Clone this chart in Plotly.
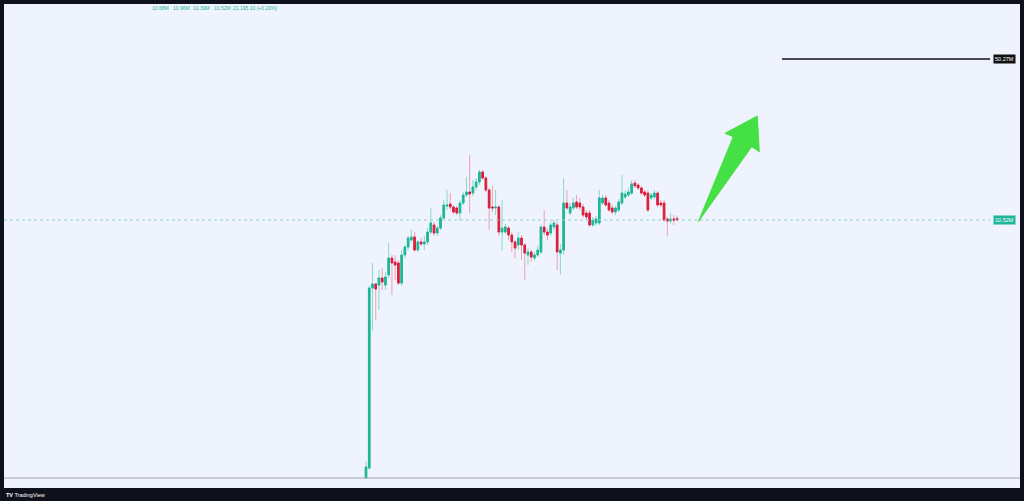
import math
import plotly.graph_objects as go

# ---- data (market cap, millions) ----
opens = [0.858, 0.946, 5.43, 5.65, 5.59, 5.99, 5.59, 6.17, 7.27, 7.00,
         6.93, 5.70, 7.49, 8.09, 8.66, 8.92, 7.86, 8.50, 8.33, 8.50,
         9.36, 10.02, 9.27, 9.73, 10.73, 12.05, 12.29, 11.94, 11.82, 11.26,
         12.41, 13.41, 13.81, 13.67, 14.50, 15.22, 16.77, 15.82, 14.08, 11.94,
         11.82, 11.94, 9.36, 9.36, 9.73, 9.09, 8.50, 8.25, 8.83, 8.25,
         7.49, 7.71, 7.27, 7.49, 7.71, 9.83, 9.36, 9.27, 9.83, 10.02,
         7.63, 7.86, 12.41, 11.26, 11.82, 12.53, 12.41, 11.94, 11.26, 11.26,
         10.02, 10.22, 10.22, 12.41, 13.03, 12.41, 11.82, 11.37, 11.59, 12.41,
         13.15, 13.41, 13.67, 15.07, 14.78, 14.36, 13.81, 13.67, 13.03, 13.15,
         13.67, 12.41, 12.41, 10.62, 10.42, 10.62, 10.68]
highs = [1.01, 5.54, 6.93, 5.70, 6.47, 6.60, 6.35, 8.41, 7.49, 7.49,
         7.13, 7.86, 8.25, 9.01, 9.55, 9.36, 8.66, 8.83, 9.01, 9.73,
         11.82, 10.32, 9.92, 11.04, 12.78, 14.08, 13.67, 12.17, 12.05, 12.78,
         13.81, 15.98, 19.78, 15.52, 15.82, 17.10, 17.10, 16.13, 14.36, 14.64,
         14.08, 12.17, 12.78, 10.12, 9.92, 9.36, 8.66, 9.36, 9.09, 8.41,
         8.01, 7.86, 7.71, 8.17, 10.02, 11.59, 9.73, 10.32, 10.52, 10.32,
         8.33, 15.82, 14.08, 12.41, 13.03, 13.41, 13.03, 12.29, 11.59, 11.59,
         10.83, 10.94, 14.08, 13.41, 13.41, 12.78, 12.17, 12.05, 12.90, 16.29,
         14.08, 14.36, 15.52, 15.52, 15.07, 14.64, 14.08, 14.08, 13.67, 14.08,
         13.95, 12.78, 12.78, 10.83, 11.26, 11.04, 10.96]
lows = [0.85, 0.928, 3.61, 3.98, 4.39, 5.33, 5.33, 5.99, 5.08, 5.87,
        5.59, 5.54, 7.27, 7.86, 8.50, 7.71, 7.71, 8.17, 7.86, 8.25,
        9.18, 9.01, 9.01, 9.55, 10.52, 11.59, 11.59, 11.15, 11.04, 10.52,
        12.17, 13.15, 11.26, 13.28, 14.08, 14.78, 15.52, 13.81, 9.55, 11.37,
        11.04, 9.01, 7.86, 9.18, 8.66, 7.71, 7.27, 7.86, 7.13, 5.87,
        6.79, 7.00, 7.13, 7.34, 7.56, 9.09, 8.66, 9.01, 9.55, 6.47,
        6.17, 7.49, 11.59, 11.04, 11.59, 11.71, 11.59, 10.73, 10.52, 9.83,
        9.83, 9.92, 10.02, 12.17, 11.94, 11.37, 11.15, 11.04, 11.37, 12.17,
        12.90, 13.15, 13.41, 14.36, 14.08, 13.41, 13.15, 11.37, 12.78, 12.90,
        11.94, 11.94, 10.32, 9.01, 10.22, 10.02, 10.39]
closes = [0.955, 5.43, 5.65, 5.38, 5.99, 5.76, 6.05, 7.27, 6.93, 6.79,
          5.70, 7.49, 8.09, 8.83, 8.92, 7.86, 8.50, 8.33, 8.50, 9.36,
          10.22, 9.27, 9.73, 10.73, 12.17, 12.17, 11.94, 11.37, 11.26, 12.41,
          13.41, 13.81, 13.54, 14.50, 15.22, 16.77, 15.82, 14.08, 11.82, 11.82,
          11.94, 9.36, 9.73, 9.83, 9.09, 8.50, 8.01, 8.83, 8.25, 7.63,
          7.71, 7.34, 7.49, 7.86, 9.83, 9.36, 9.09, 10.02, 10.22, 7.71,
          7.86, 12.41, 11.82, 11.94, 12.41, 11.94, 11.94, 11.04, 10.83, 10.02,
          10.52, 10.62, 13.03, 13.03, 12.17, 11.59, 11.37, 11.82, 12.53, 13.67,
          13.54, 13.81, 14.93, 14.64, 14.36, 13.67, 13.41, 11.59, 13.41, 13.67,
          12.17, 12.17, 10.52, 10.42, 10.62, 10.52, 10.52]
bars = list(range(len(closes)))

last_price = 10.52
target_price = 50.27
header_values = ["10.68M", "10.96M", "10.39M", "10.52M", "21,195.10 (+0.20%)"]
header_x = [150, 171, 191, 212, 231]  # pixel starts

# ---- style ----
W, H = 1024, 501
ML, MR, MT, MB = 4, 4, 4, 13
PW, PH = W - ML - MR, H - MT - MB
FRAME = "#0e101b"
BG = "#eef3fd"
UP_BODY, DN_BODY = "#1fb598", "#d91e3c"
UP_WICK, DN_WICK = "#8ad9c7", "#f0a0b0"
TEAL = "#1fb598"


def px(xp):
    return (xp - ML) / PW


def py(yp):
    return (MT + PH - yp) / PH


fig = go.Figure()
# wicks (lighter)
fig.add_trace(go.Candlestick(
    x=bars, open=opens, high=highs, low=lows, close=closes,
    increasing=dict(line=dict(color=UP_WICK, width=1), fillcolor=UP_WICK),
    decreasing=dict(line=dict(color=DN_WICK, width=1), fillcolor=DN_WICK),
    showlegend=False, hoverinfo="skip"))
# bodies (solid)
body_hi = [max(o, c) for o, c in zip(opens, closes)]
body_lo = [min(o, c) for o, c in zip(opens, closes)]
fig.add_trace(go.Candlestick(
    x=bars, open=opens, high=body_hi, low=body_lo, close=closes,
    increasing=dict(line=dict(color=UP_BODY, width=1), fillcolor=UP_BODY),
    decreasing=dict(line=dict(color=DN_BODY, width=1), fillcolor=DN_BODY),
    showlegend=False))

spacing = 3.24
first_px = 366
x_lo = (ML - first_px) / spacing
x_hi = (W - MR - first_px) / spacing
y_top = math.log10(last_price) + (220 - MT) * math.log10(target_price / last_price) / (220 - 59)
y_bot = math.log10(last_price) - (MT + PH - 220) * math.log10(target_price / last_price) / (220 - 59)

shapes = []
# current price dotted line
shapes.append(dict(type="line", xref="paper", yref="y", x0=0, x1=px(990), y0=last_price, y1=last_price,
                   line=dict(color="#8fd3c5", width=1, dash="dot")))
# target line
shapes.append(dict(type="line", xref="paper", yref="y", x0=px(782), x1=px(990), y0=target_price, y1=target_price,
                   line=dict(color="#111111", width=1.5)))
# bottom separator
shapes.append(dict(type="line", xref="paper", yref="paper", x0=0, x1=1, y0=py(478), y1=py(478),
                   line=dict(color="#a3a6af", width=1)))
# green arrow
pts = [(698.3, 221.7), (733.3, 136.7), (725, 133.3), (757.3, 116), (759.3, 151.7), (751.7, 146.7)]
path = "M " + " L ".join(f"{px(a):.5f},{py(b):.5f}" for a, b in pts) + " Z"
shapes.append(dict(type="path", xref="paper", yref="paper", path=path,
                   fillcolor="#45e045", line=dict(color="#45e045", width=1)))

annotations = []
for txt, xp in zip(header_values, header_x):
    annotations.append(dict(text=txt, xref="paper", yref="paper", x=px(xp), y=py(8),
                            xanchor="left", yanchor="middle", showarrow=False,
                            font=dict(size=5, color=TEAL, family="Arial")))
annotations.append(dict(text=f"{target_price:.2f}M", xref="paper", yref="y", x=px(1016),
                        y=math.log10(target_price), xanchor="right", yanchor="middle", showarrow=False,
                        bgcolor="#111111", font=dict(size=5.5, color="white", family="Arial"),
                        borderpad=1))
annotations.append(dict(text=f"{last_price:.2f}M", xref="paper", yref="y", x=px(1016),
                        y=math.log10(last_price), xanchor="right", yanchor="middle", showarrow=False,
                        bgcolor=TEAL, font=dict(size=5.5, color="white", family="Arial"),
                        borderpad=1))
annotations.append(dict(text="<b>TV</b> TradingView", xref="paper", yref="paper", x=px(4), y=py(494.5),
                        xanchor="left", yanchor="middle", showarrow=False,
                        font=dict(size=5.5, color="white", family="Arial")))

fig.update_layout(
    width=W, height=H,
    margin=dict(l=ML, r=MR, t=MT, b=MB, pad=0),
    paper_bgcolor=FRAME, plot_bgcolor=BG,
    xaxis=dict(range=[x_lo, x_hi], showgrid=False, zeroline=False, showticklabels=False,
               rangeslider=dict(visible=False), fixedrange=True),
    yaxis=dict(type="log", range=[y_bot, y_top], showgrid=False, zeroline=False,
               showticklabels=False, fixedrange=True),
    shapes=shapes, annotations=annotations,
    showlegend=False, hovermode=False,
)

fig.write_html("out.html", config={"displayModeBar": False},
               post_script="document.body.style.margin='0';document.body.style.overflow='hidden';")
